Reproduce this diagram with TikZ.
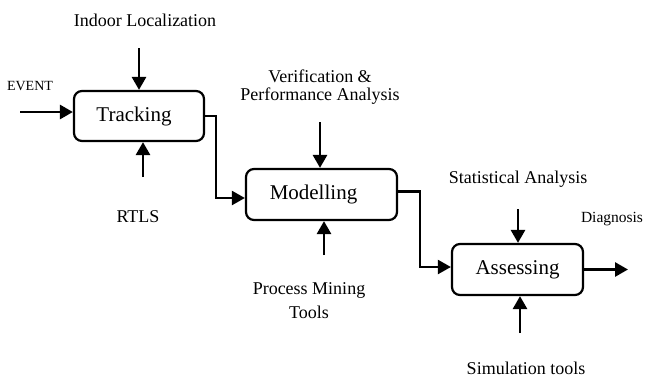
\documentclass[tikz,border=0pt]{standalone}
\usepackage{fontspec}
\setmainfont{Liberation Serif}
\usetikzlibrary{arrows.meta,calc}
\begin{document}
\begin{tikzpicture}[x=1pt,y=-1pt,
  stagebox/.style={draw,line width=2.2pt,rounded corners=8pt,inner sep=0pt,font=\fontsize{21}{24}\selectfont},
  arr/.style={line width=2.8pt,-{Triangle[length=13pt,width=14pt]}},
  conn/.style={line width=2.2pt,-{Triangle[length=13pt,width=14pt]}},
  lbl/.style={inner sep=0pt,font=\fontsize{18}{21}\selectfont,align=center},
  small/.style={inner sep=0pt,font=\fontsize{14}{16}\selectfont}]
\useasboundingbox (0,0) rectangle (645,378);
% boxes
\node[stagebox,minimum width=130pt,minimum height=50pt] (trk) at (139,116) {\hspace*{-10pt}Tracking};
\node[stagebox,minimum width=151pt,minimum height=51pt] (mod) at (321.5,194.5) {\hspace*{-16pt}Modelling};
\node[stagebox,minimum width=131pt,minimum height=51pt] (ass) at (517.5,269.5) {Assessing};
% labels
\node[lbl] (lil) at (145,20) {Indoor Localization};
\node[small] (lev) at (30,86) {EVENT};
\node[lbl] (lrt) at (138,217) {RTLS};
\node[lbl] (lve) at (320,76) {Verification \&};
\node[lbl] (lpa) at (320,96) {Performance Analysis};
\node[lbl] (lpm) at (309,290) {Process Mining};
\node[lbl] (lto) at (309,312) {Tools};
\node[lbl] (lsa) at (518,179) {Statistical Analysis};
\node[small,font=\fontsize{15.5}{18}\selectfont] (ldi) at (612,219) {Diagnosis};
\node[lbl] (lsi) at (526,368) {Simulation tools};
% arrow start points
\coordinate (il) at (139,48);
\coordinate (ev) at (20,112);
\coordinate (rt) at (143,177);
\coordinate (ve) at (320,122);
\coordinate (pm) at (324,255);
\coordinate (sa) at (518,209);
\coordinate (si) at (520,333);
\coordinate (dout) at (628,269.5);
\coordinate (c1) at (216,198);
\coordinate (c2) at (420,267);
% input arrows
\draw[arr] (il) -- (il |- trk.north);
\draw[arr] (ev) -- (ev -| trk.west);
\draw[arr] (rt) -- (rt |- trk.south);
\draw[arr] (ve) -- (ve |- mod.north);
\draw[arr] (pm) -- (pm |- mod.south);
\draw[arr] (sa) -- (sa |- ass.north);
\draw[arr] (si) -- (si |- ass.south);
\draw[arr] (ass.east) -- (dout);
% connectors
\draw[conn] (trk.east) -| (c1) -- (c1 -| mod.west);
\draw[conn] ([yshift=3pt]mod.east) -| (c2) -- (c2 -| ass.west);
\end{tikzpicture}
\end{document}
